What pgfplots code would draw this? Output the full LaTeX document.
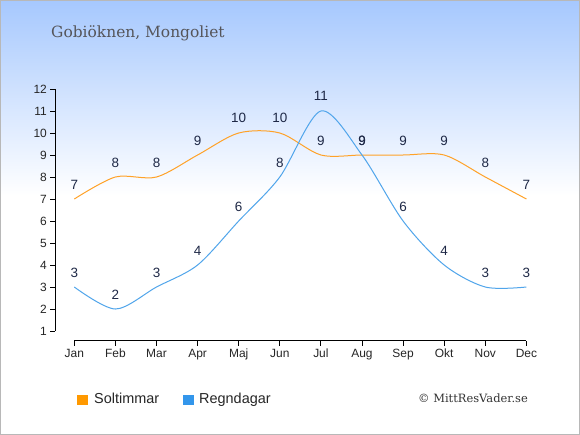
\documentclass[border=0pt]{standalone}
\usepackage{pgfplots}
\pgfplotsset{compat=1.18}
\usepackage{fontspec}
\setmainfont{Liberation Sans}
\newfontfamily\seriffont{DejaVu Serif}
\definecolor{bgtop}{RGB}{166,200,254}
\definecolor{lineO}{RGB}{255,162,40}
\definecolor{lineB}{RGB}{80,165,235}
\definecolor{sqO}{RGB}{255,153,0}
\definecolor{sqB}{RGB}{51,150,235}
\definecolor{lbl}{RGB}{30,40,70}
\definecolor{titlegray}{RGB}{85,85,90}
\begin{document}
\begin{tikzpicture}
\fill[white] (0bp,0bp) rectangle (580bp,240bp);
\shade[top color=bgtop, bottom color=white] (0bp,239.5bp) rectangle (580bp,435bp);
\draw[black!28, line width=1.2bp] (0.6bp,0.6bp) rectangle (579.4bp,434.4bp);
\node[anchor=base west, inner sep=0, text=titlegray, font=\seriffont\fontsize{15.5}{17}\selectfont] at (51bp,397bp) {Gobiöknen, Mongoliet};
\begin{axis}[
  at={(55.4bp,94.3bp)}, anchor=south west, scale only axis,
  width=479.2bp, height=256.1bp,
  xmin=-0.46, xmax=11.2, ymin=0.56, ymax=12.2,
  axis x line*=bottom, axis y line*=left,
  axis line style={draw=none},
  clip=false,
  xtick={0,...,11},
  xticklabels={Jan,Feb,Mar,Apr,Maj,Jun,Jul,Aug,Sep,Okt,Nov,Dec},
  ytick={1,...,12},
  tick align=outside, major tick length=5bp,
  tick style={black, line width=0.8bp},
  tick label style={font=\fontsize{12}{14}\selectfont, text=black!85},
  /pgf/number format/assume math mode=true,
  nodes near coords,
  every node near coord/.append style={font=\fontsize{13.5}{15}\selectfont, text=lbl, anchor=base, inner sep=0, yshift=10bp},
]
\draw[black, line width=0.8bp] (axis cs:0,0.56) -- (axis cs:11,0.56);
\draw[black, line width=0.8bp] (axis cs:-0.46,1) -- (axis cs:-0.46,12);
\addplot[lineO, line width=1bp, smooth, tension=0.5] coordinates {
(0,7) (1,8) (2,8) (3,9) (4,10) (5,10) (6,9) (7,9) (8,9) (9,9) (10,8) (11,7)};
\addplot[lineB, line width=1bp, smooth, tension=0.5] coordinates {
(0,3) (1,2) (2,3) (3,4) (4,6) (5,8) (6,11) (7,9) (8,6) (9,4) (10,3) (11,3)};
\end{axis}
\fill[sqO] (77bp,30bp) rectangle (88bp,40bp);
\node[anchor=base west, inner sep=0, font=\fontsize{14.5}{16}\selectfont, text=black!85] at (94bp,32bp) {Soltimmar};
\fill[sqB] (183bp,30bp) rectangle (194bp,40bp);
\node[anchor=base west, inner sep=0, font=\fontsize{14.5}{16}\selectfont, text=black!85] at (199bp,32bp) {Regndagar};
\node[anchor=base west, inner sep=0, font=\seriffont\fontsize{11.5}{13}\selectfont, text=black!80] at (418bp,33bp) {© MittResVader.se};
\end{tikzpicture}
\end{document}
